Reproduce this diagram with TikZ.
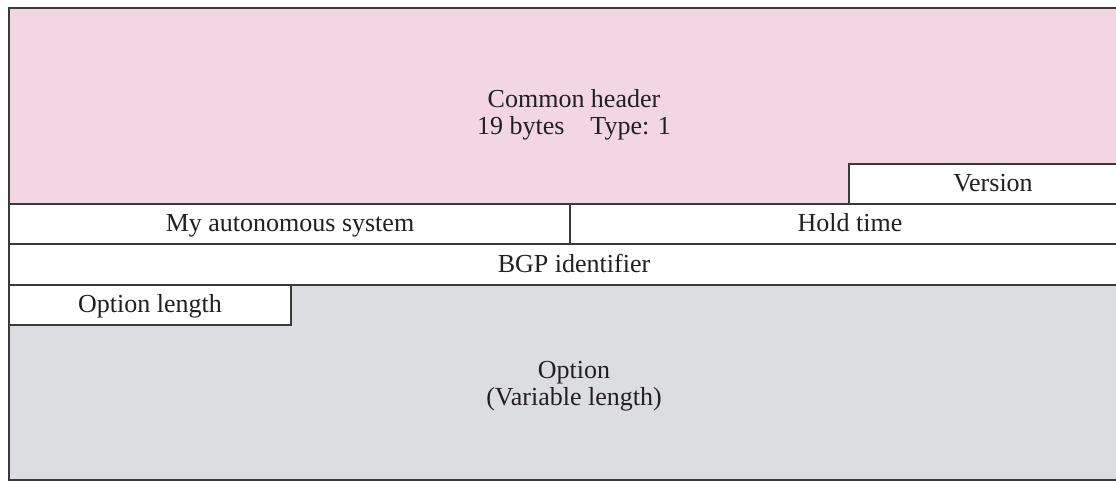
\documentclass[tikz,border=0pt]{standalone}
\usepackage{fontspec}
\setmainfont{Liberation Serif}
\usetikzlibrary{positioning}
\definecolor{headerFill}{HTML}{F2D7E3}
\definecolor{optionFill}{HTML}{DCDDE0}
\definecolor{fieldLine}{HTML}{3A3A3A}
\definecolor{fieldText}{HTML}{231F20}

\begin{document}
\begin{tikzpicture}[
  x=0.5pt, y=-0.5pt,
  font=\fontsize{13}{13.5}\selectfont,
  field/.style={draw=fieldLine, line width=1.1pt, fill=white},
  label/.style={text=fieldText, align=center, inner sep=0pt},
  rowlabel/.style={label, anchor=base}
]
\useasboundingbox (0,0) rectangle (1116,481);
\clip (0,0) rectangle (1116,481);

%  Field boxes
\draw[field, fill=headerFill] (9,8) rectangle (1138,204);
\draw[field] (849,164) rectangle (1138,204);
\draw[field] (9,204) rectangle (570,244);
\draw[field] (570,204) rectangle (1138,244);
\draw[field] (9,244) rectangle (1138,285);
\draw[field, fill=optionFill] (9,285) rectangle (1138,480);
\draw[field] (9,285) rectangle (291,325);

%  Field labels
\node[label] (hdr) at (574,115) {Common header\\19 bytes\hspace{1em}Type: 1};
\node[rowlabel] (ver) at (993,192) {Version};
\node[rowlabel] (as)  at (290,232) {My autonomous system};
\node[rowlabel] (hold) at (850,232) {Hold time};
\node[rowlabel] (bgp) at (574,273) {BGP identifier};
\node[rowlabel] (olen) at (150,313) {Option length};
\node[label] (opt) at (574,386) {Option\\(Variable length)};

\end{tikzpicture}
\end{document}
